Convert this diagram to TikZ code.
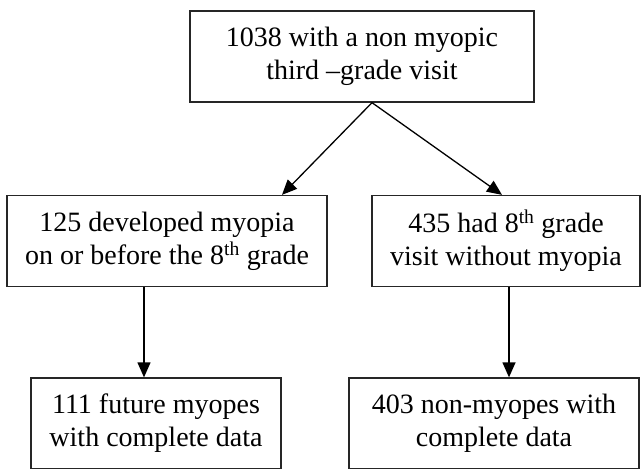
\documentclass[tikz,border=0pt]{standalone}
\usepackage{fontspec}
\setmainfont{Liberation Serif}
\usetikzlibrary{arrows.meta}

\tikzset{
  flowbox/.style={draw=black!85, line width=1.3pt, align=center, inner sep=0pt,
    minimum height=91pt, fill=white, font=\fontsize{28}{33}\selectfont},
  flowarrow/.style={-{Triangle[length=15pt,width=13pt]}, line width=1.3pt, black}
}

\begin{document}
\begin{tikzpicture}[x=1pt,y=-1pt]
  \useasboundingbox (0,0) rectangle (641,469);
  \node[flowbox, minimum width=344pt] (visit) at (362,56.5) {1038 with a non myopic\\third --grade visit};
  \node[flowbox, minimum width=320pt] (myo) at (167,241) {125 developed myopia\\on or before the 8\textsuperscript{th} grade};
  \node[flowbox, minimum width=268pt] (nonmyo) at (506,241) {435 had 8\textsuperscript{th} grade\\visit without myopia};
  \node[flowbox, minimum width=250pt] (futmyo) at (156,423.5) {111 future myopes\\with complete data};
  \node[flowbox, minimum width=290pt] (nonfut) at (494,423.5) {403 non-myopes with\\complete data};
  % splits from the top box
  \draw[flowarrow] ([xshift=10pt]visit.south) -- ([xshift=115pt]myo.north);
  \draw[flowarrow] ([xshift=10pt]visit.south) -- ([xshift=-4pt]nonmyo.north);
  % down to the complete data
  \draw[flowarrow] ([xshift=-23pt]myo.south) -- ([xshift=-23pt]myo.south |- futmyo.north);
  \draw[flowarrow] ([xshift=3pt]nonmyo.south) -- ([xshift=3pt]nonmyo.south |- nonfut.north);
\end{tikzpicture}
\end{document}
